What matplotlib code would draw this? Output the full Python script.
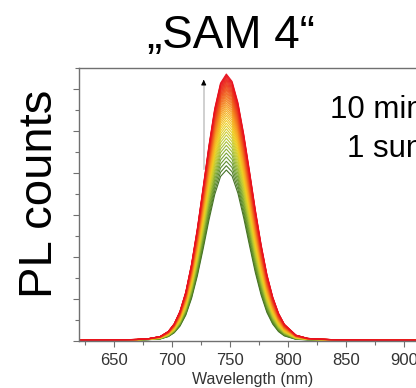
import matplotlib
matplotlib.use("Agg")
import matplotlib.pyplot as plt
from matplotlib.colors import LinearSegmentedColormap
from matplotlib.ticker import MultipleLocator, NullFormatter
import numpy as np

plt.rcParams['font.family'] = ['Liberation Sans', 'DejaVu Sans']

# PL spectra recorded every scan under 1 sun (first scan = green, last scan = red)
wavelength = [620, 640, 660, 670, 680, 690, 697, 702, 707, 712, 717, 722, 727,
              732, 737, 742, 747, 752, 757, 762, 767, 772, 777, 782,
              787, 792, 797, 807, 817, 827, 840, 860, 880, 900, 930, 950]

counts_first = [24, 33, 41, 49, 65, 98, 212, 391, 708, 1230, 2028, 3102, 4389,
                5757, 6979, 7834, 8143, 7850, 7036, 5863, 4544, 3265,
                2190, 1360, 806, 448, 244, 81, 57, 49, 41, 33, 24, 24, 16, 16]

counts_last = [38, 51, 64, 76, 114, 216, 458, 814, 1411, 2327, 3662, 5353, 7311,
               9307, 11074, 12282, 12714, 12358, 11354, 9853, 8086,
               6255, 4590, 3166, 2098, 1322, 801, 280, 127, 89, 64, 51, 38, 38, 25, 25]

# peak intensity of each scan, in acquisition order
scan_peaks = [8143, 8350, 8560, 8760, 8950, 9140, 9320, 9490, 9650, 9810, 9960,
              10100, 10240, 10370, 10500, 10620, 10740, 10850, 10960, 11060,
              11160, 11250, 11340, 11430, 11510, 11590, 11670, 11740, 11810,
              11880, 11950, 12010, 12070, 12130, 12190, 12250, 12310, 12370,
              12430, 12490, 12550, 12610, 12660, 12714]

x_ticks = [650, 700, 750, 800, 850, 900]

fig = plt.figure(figsize=(4.16, 3.88), dpi=100)
ax = fig.add_axes([0.19, 0.1211, 0.92, 0.7036])

cmap = LinearSegmentedColormap.from_list(
    'soak', ['#3b6a1c', '#6e9e2c', '#b8c832', '#f0d020', '#f7a020', '#f05a1c', '#e8101e'])

wl = np.array(wavelength)
first = np.array(counts_first, dtype=float)
last = np.array(counts_last, dtype=float)
first_n = first / first.max()
last_n = last / last.max()

p0, p1 = scan_peaks[0], scan_peaks[-1]
for peak in scan_peaks:
    f = (peak - p0) / (p1 - p0)
    shape = (1 - f) * first_n + f * last_n
    ax.plot(wl, peak * shape, color=cmap(f), lw=0.8, alpha=0.95)

# arrow showing the rise of the PL signal
ax.plot([727.5, 727.5], [8190, 12300], color='#c8c8c8', lw=1.2)
ax.annotate('', xy=(727.5, 12570), xytext=(727.5, 12200),
            arrowprops=dict(arrowstyle='-|>', color='black', lw=0.8,
                            mutation_scale=7))

ax.set_xlim(620, 950)
ax.set_ylim(0, 13000)
ax.set_xticks(x_ticks)
ax.xaxis.set_minor_locator(MultipleLocator(25))
ax.yaxis.set_major_locator(MultipleLocator(2000))
ax.yaxis.set_minor_locator(MultipleLocator(1000))
ax.yaxis.set_major_formatter(NullFormatter())

for side in ['left', 'bottom', 'top', 'right']:
    ax.spines[side].set_color('#707070')
    ax.spines[side].set_linewidth(1.0)

ax.tick_params(axis='both', which='major', direction='out', length=4.5,
               width=0.8, color='#707070', labelsize=12, labelcolor='#333333', pad=4)
ax.tick_params(axis='both', which='minor', direction='out', length=2.8,
               width=0.8, color='#707070')
ax.tick_params(axis='x', which='both', top=False)

fig.text(0.555, 0.876, '\u201eSAM 4\u201c', fontsize=33, ha='center', va='baseline')
fig.text(0.095, 0.5, 'PL counts', fontsize=34, rotation=90, ha='center', va='center')
fig.text(0.793, 0.696, '10 min', fontsize=22.5, ha='left', va='baseline')
fig.text(0.834, 0.595, '1 sun', fontsize=22.5, ha='left', va='baseline')
fig.text(0.608, 0.04, 'Wavelength (nm)', fontsize=11.5, color='#333333',
         ha='center', va='top')

fig.savefig('out.png', dpi=100)
